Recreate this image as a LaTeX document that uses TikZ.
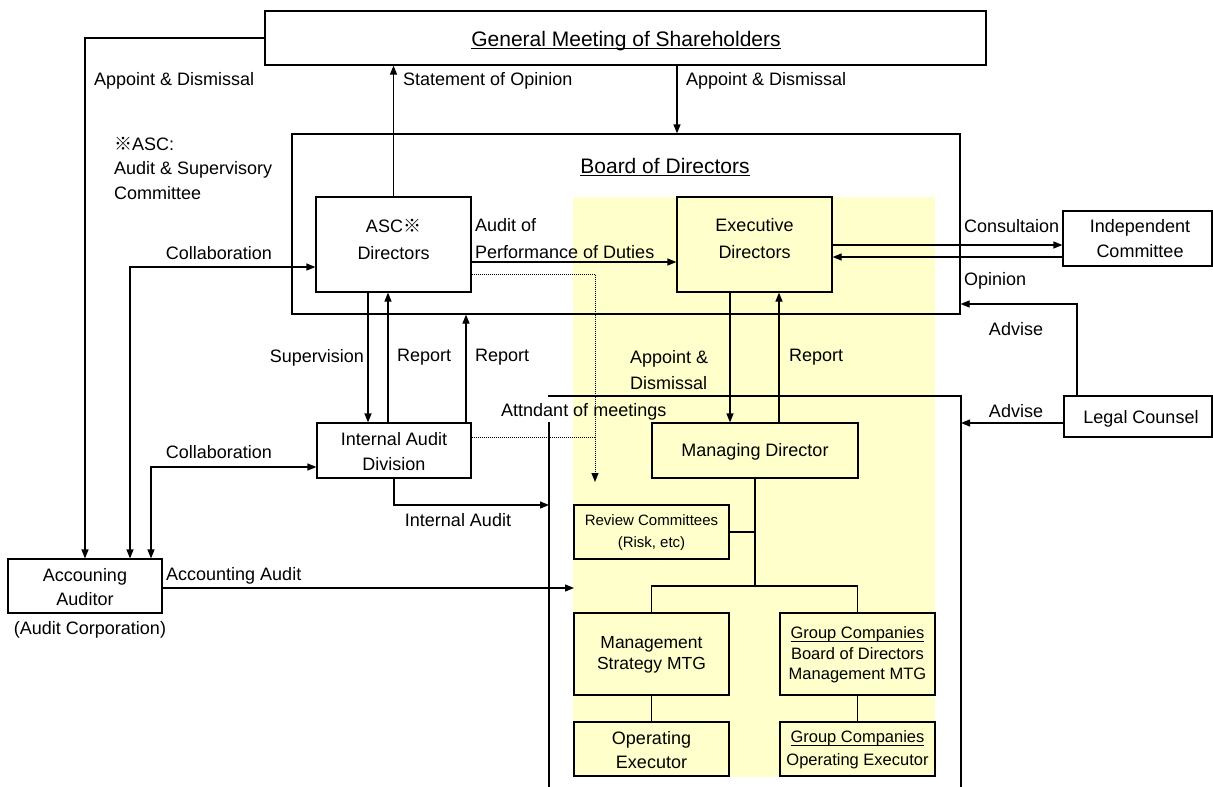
\documentclass[tikz,border=0pt]{standalone}
\usepackage{fontspec}
\setmainfont{Liberation Sans}
\newfontfamily\cjk{Noto Sans CJK JP}
\newcommand\myul[1]{\setbox0\hbox{#1}\rlap{\vrule height -2.2pt depth 3.4pt width \wd0}\box0}
\usetikzlibrary{arrows.meta,calc}
\definecolor{ylw}{RGB}{255,255,204}
\tikzset{
  box/.style={draw, line width=1.2pt, inner sep=0pt},
  ybox/.style={box, fill=ylw},
  conn/.style={line width=1.2pt},
  arr/.style={conn, -{Triangle[length=9pt,width=7pt]}},
  darr/.style={conn, {Triangle[length=9pt,width=7pt]}-{Triangle[length=9pt,width=7pt]}},
  dotln/.style={line width=1pt, densely dotted},
  lbl/.style={inner sep=0pt, font=\fontsize{18}{24}\selectfont},
  ttl/.style={inner sep=0pt, anchor=base, font=\fontsize{21}{25}\selectfont},
}
\begin{document}
\begin{tikzpicture}[x=1pt,y=-1pt]
\useasboundingbox (0,0) rectangle (1213,787);
\fill[white] (0,0) rectangle (1213,787);
% yellow executive zone
\fill[ylw] (573,197) rectangle (935,777);

% boxes
\node[box, minimum width=721pt, minimum height=54pt] (gm) at (625.5,38) {};
\node[box, minimum width=668pt, minimum height=180pt] (bod) at (626,224) {};
\node[box, fill=white, minimum width=155pt, minimum height=95pt] (asc) at (393.5,244.5) {};
\node[ybox, minimum width=155pt, minimum height=95pt] (ex) at (754.5,244.5) {};
\node[box, fill=white, minimum width=149pt, minimum height=55pt] (ind) at (1137.5,238.5) {};
\node[box, fill=white, minimum width=154pt, minimum height=55pt] (ia) at (394,450.5) {};
\node[box, fill=white, minimum width=154pt, minimum height=54pt] (aa) at (85,586) {};
\node[box, fill=white, minimum width=148pt, minimum height=41pt] (lc) at (1138,416.5) {};
\node[ybox, minimum width=206pt, minimum height=55pt] (md) at (755,450.5) {};
\node[ybox, minimum width=155pt, minimum height=54pt] (rc) at (651.5,532) {};
\node[ybox, minimum width=155pt, minimum height=82pt] (msm) at (651.5,654) {};
\node[ybox, minimum width=155pt, minimum height=82pt] (gc) at (857.5,654) {};
\node[ybox, minimum width=155pt, minimum height=54pt] (oe) at (651.5,749) {};
\node[ybox, minimum width=155pt, minimum height=54pt] (gcoe) at (857.5,749) {};

% box texts
\node[ttl] (gmt) at (626,46) {\myul{General Meeting of Shareholders}};
\node[ttl] (bodt) at (665,173) {\myul{Board of Directors}};
\node[lbl, align=center, font=\fontsize{18}{27}\selectfont] (asct) at (393.5,239) {ASC{\cjk ※}\\Directors};
\node[lbl, align=center, font=\fontsize{18}{27}\selectfont] (ext) at (754.5,239) {Executive\\Directors};
\node[lbl, align=center, font=\fontsize{18}{25}\selectfont] (indt) at (1140,239) {Independent\\Committee};
\node[lbl, align=center, font=\fontsize{18}{25}\selectfont] (iat) at (394,452) {Internal Audit\\Division};
\node[lbl, align=center, font=\fontsize{18}{24}\selectfont] (aat) at (85,587.5) {Accouning\\Auditor};
\node[lbl] (aac) at (90,629.5) {(Audit Corporation)};
\node[lbl] (lct) at (1141,418.5) {Legal Counsel};
\node[lbl] (mdt) at (755,451.5) {Managing Director};
\node[lbl, align=center, font=\fontsize{15}{22}\selectfont] (rct) at (651.5,533) {Review Committees\\(Risk, etc)};
\node[lbl, align=center, font=\fontsize{17.5}{21}\selectfont] (msmt) at (651.5,655) {Management\\Strategy MTG};
\node[lbl, align=center, font=\fontsize{16.5}{20.5}\selectfont] (gct) at (857.5,655) {\myul{Group Companies}\\Board of Directors\\Management MTG};
\node[lbl, align=center, font=\fontsize{18}{24}\selectfont] (oet) at (651.5,750.5) {Operating\\Executor};
\node[lbl, align=center, font=\fontsize{16.5}{23}\selectfont] (gcoet) at (857.5,750) {\myul{Group Companies}\\Operating Executor};

% executive area outline
\coordinate (eaTL) at (548,396);
\coordinate (eaTR) at (961,396);
\coordinate (eaBR) at (961,787);
\coordinate (eaL1) at (549,422);
\coordinate (eaL2) at (549,787);
\draw[conn] (eaTL) -- (eaTR) -- (eaBR);
\draw[conn] (eaL1) -- (eaL2);

% helper coordinates
\coordinate (k1) at (130,267);
\coordinate (k2) at (151,467);
\coordinate (k3) at (677,0);
\coordinate (k4) at (0,262);
\coordinate (k5) at (595,274);
\coordinate (k6) at (595,482);
\coordinate (k7) at (0,437);
\coordinate (k8) at (368,0);
\coordinate (k9) at (388,0);
\coordinate (k10) at (466,0);
\coordinate (k11) at (0,245);
\coordinate (k12) at (0,257);
\coordinate (k13) at (1077,304);
\coordinate (k14) at (0,423);
\coordinate (k15) at (730,0);
\coordinate (k16) at (779,0);
\coordinate (k17) at (0,505);
\coordinate (k18) at (574,588);
\coordinate (t1) at (755,586);

% connectors
\draw[arr] (gm.west) -| (aa.north);
\draw[arr] (asc.north) -- (gm.south -| asc.north);
\draw[arr] (gm.south -| k3) -- (bod.north -| k3);
\draw[darr] (asc.west |- k1) -| (aa.north -| k1);
\draw[darr] (ia.west |- k2) -| (aa.north -| k2);
\draw[arr] (asc.east |- k4) -- (ex.west |- k4);
\draw[dotln, -{Triangle[length=9pt,width=7pt]}] (asc.east |- k5) -- (k5) -- (k6);
\draw[dotln] (ia.east |- k7) -- (k5 |- k7);
\draw[arr] (asc.south -| k8) -- (ia.north -| k8);
\draw[arr] (ia.north -| k9) -- (asc.south -| k9);
\draw[arr] (ia.north -| k10) -- (bod.south -| k10);
\draw[arr] (ex.east |- k11) -- (ind.west |- k11);
\draw[arr] (ind.west |- k12) -- (ex.east |- k12);
\draw[arr] (lc.north -| k13) -- (k13) -- (bod.east |- k13);
\draw[arr] (lc.west |- k14) -- (eaTR |- k14);
\draw[arr] (ex.south -| k15) -- (md.north -| k15);
\draw[arr] (md.north -| k16) -- (ex.south -| k16);
\draw[arr] (ia.south) |- (eaL2 |- k17);
\draw[arr] (aa.east |- k18) -- (k18);
\draw[conn] (md.south) -- (t1);
\draw[conn] (rc.east) -- (rc.east -| t1);
\draw[conn] (msm.north) |- (t1) -| (gc.north);
\draw[conn] (msm.south) -- (oe.north);
\draw[conn] (gc.south) -- (gcoe.north);

% connector labels
\node[lbl, anchor=west] (l1) at (94,81) {Appoint \& Dismissal};
\node[lbl, anchor=west] (l2) at (403,81) {Statement of Opinion};
\node[lbl, anchor=west] (l3) at (686,81) {Appoint \& Dismissal};
\node[lbl, anchor=west, align=left, font=\fontsize{18}{24.5}\selectfont] (l4) at (114,168) {{\cjk ※}ASC:\\Audit \& Supervisory\\Committee};
\node[lbl] (l5) at (219,253.5) {Collaboration};
\node[lbl, anchor=west, align=left, font=\fontsize{18}{27}\selectfont] (l6) at (475,239) {Audit of\\Performance of Duties};
\node[lbl, anchor=east] (l7) at (364,357.5) {Supervision};
\node[lbl, anchor=west] (l8) at (397,357.5) {Report};
\node[lbl, anchor=west] (l9) at (475,357.5) {Report};
\node[lbl, anchor=west, align=left, font=\fontsize{18}{26}\selectfont] (l10) at (630,370.5) {Appoint \&\\Dismissal};
\node[lbl, anchor=west] (l11) at (789,357.5) {Report};
\node[lbl, anchor=west] (l12) at (964,226.5) {Consultaion};
\node[lbl, anchor=west] (l13) at (964,280.5) {Opinion};
\node[lbl] (l14) at (1016,329.5) {Advise};
\node[lbl] (l15) at (1016,411.5) {Advise};
\node[lbl, anchor=west] (l16) at (501,411.5) {Attndant of meetings};
\node[lbl] (l17) at (219,452.5) {Collaboration};
\node[lbl] (l18) at (458,520.5) {Internal Audit};
\node[lbl, anchor=west] (l19) at (166,575.5) {Accounting Audit};
\end{tikzpicture}
\end{document}
